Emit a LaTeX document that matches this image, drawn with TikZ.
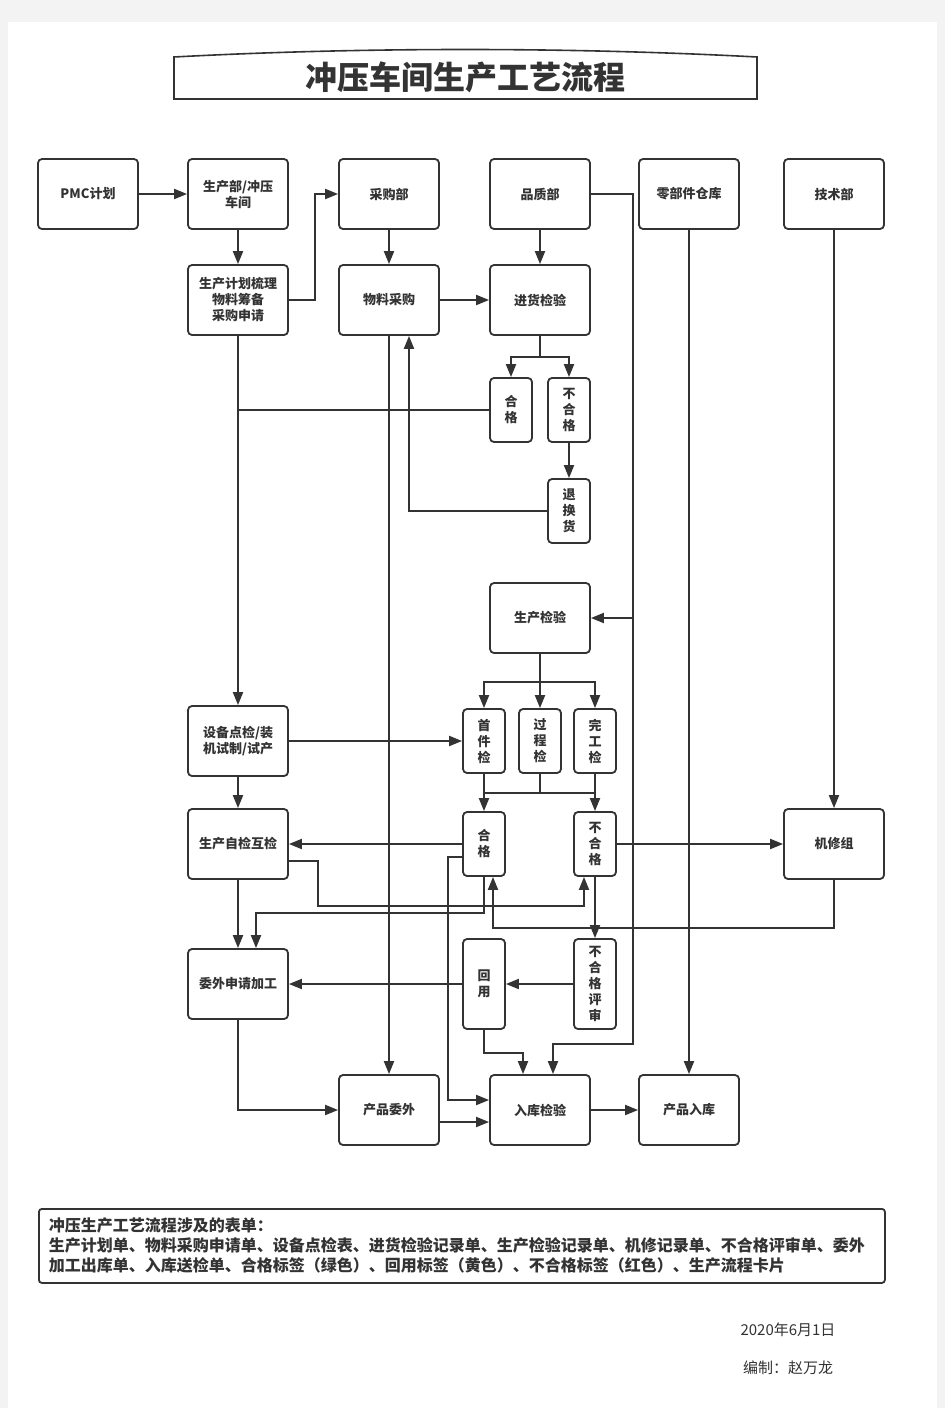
\documentclass[tikz,border=0pt]{standalone}
\usepackage{fontspec}
\setmainfont{Noto Sans CJK SC}
\usetikzlibrary{arrows.meta}
\definecolor{linegray}{HTML}{333333}
\definecolor{pagegray}{HTML}{F3F3F3}

\begin{document}
\begin{tikzpicture}[x=1pt,y=-1pt,
    line width=2pt, draw=linegray, text=linegray,
    stepbox/.style={draw=linegray, line width=1.8pt, rounded corners=4pt,
      minimum width=100pt, minimum height=70pt, inner sep=0pt, align=center,
      font=\bfseries\fontsize{13}{16}\selectfont},
    tagbox/.style={stepbox, minimum width=42pt, minimum height=64pt},
    arr/.style={-{Triangle[length=13pt,width=10pt]}}]
  % page
  \useasboundingbox (0,0) rectangle (945,1408);
  \fill[pagegray] (0,0) rectangle (945,1408);
  \fill[white] (8,22) rectangle (937,1408);
  % title
  \draw[line width=1.6pt] (174,57) .. controls (360,47) and (570,47) .. (757,57) -- (757,99) -- (174,99) -- cycle;
  \node[font=\bfseries\fontsize{32}{36}\selectfont] (title) at (465,77) {冲压车间生产工艺流程};
  % departments
  \node[stepbox] (pmc) at (88,194) {PMC计划};
  \node[stepbox] (scb) at (238,194) {生产部/冲压\\车间};
  \node[stepbox] (cgb) at (389,194) {采购部};
  \node[stepbox] (pzb) at (540,194) {品质部};
  \node[stepbox] (ljk) at (689,194) {零部件仓库};
  \node[stepbox] (jsb) at (834,194) {技术部};
  % purchasing
  \node[stepbox] (jhsl) at (238,300) {生产计划梳理\\物料筹备\\采购申请};
  \node[stepbox] (wlcg) at (389,300) {物料采购};
  \node[stepbox] (jhjy) at (540,300) {进货检验};
  \node[tagbox] (hg1) at (511,410) {合\\格};
  \node[tagbox] (bhg1) at (569,410) {不\\合\\格};
  \node[tagbox] (thh) at (569,511) {退\\换\\货};
  % production
  \node[stepbox] (scjy) at (540,618) {生产检验};
  \node[stepbox] (sbdj) at (238,741) {设备点检/装\\机试制/试产};
  \node[tagbox] (sjj) at (484,741) {首\\件\\检};
  \node[tagbox] (gcj) at (540,741) {过\\程\\检};
  \node[tagbox] (wgj) at (595,741) {完\\工\\检};
  \node[stepbox] (zjhj) at (238,844) {生产自检互检};
  \node[tagbox] (hg2) at (484,844) {合\\格};
  \node[tagbox] (bhg2) at (595,844) {不\\合\\格};
  \node[stepbox] (jxz) at (834,844) {机修组};
  \node[stepbox] (wwsq) at (238,984) {委外申请加工};
  \node[tagbox, minimum height=90pt] (hy) at (484,984) {回\\用};
  \node[tagbox, minimum height=90pt] (bhgps) at (595,984) {不\\合\\格\\评\\审};
  % storage
  \node[stepbox] (cpww) at (389,1110) {产品委外};
  \node[stepbox] (rkjy) at (540,1110) {入库检验};
  \node[stepbox] (cprk) at (689,1110) {产品入库};
  % top flow
  \draw[arr] (pmc) -- (scb);
  \draw[arr] (scb) -- (jhsl);
  \draw[arr] (jhsl.east) -- ++(26,0) |- (cgb.west);
  \draw[arr] (cgb) -- (wlcg);
  \draw[arr] (pzb) -- (jhjy);
  \draw[arr] (wlcg) -- (jhjy);
  \draw (jhjy.south) -- ++(0,21) coordinate (s1);
  \draw[arr] (s1) -| (hg1.north);
  \draw[arr] (s1) -| (bhg1.north);
  \draw (hg1.west) -- (jhsl.south |- hg1.west);
  \draw[arr] (bhg1) -- (thh);
  \draw[arr] (thh.west) -| ([xshift=20pt]wlcg.south);
  \draw[arr] (jhsl) -- (sbdj);
  \draw[arr] (wlcg) -- (cpww);
  % quality line
  \coordinate (qa) at (633,1044);
  \draw[arr] (pzb.east) -| (qa) -| ([xshift=13pt]rkjy.north);
  \draw[arr] (qa |- scjy.east) -- (scjy.east);
  % production checks
  \draw (scjy.south) -- ++(0,28) coordinate (s2);
  \draw[arr] (s2) -| (sjj.north);
  \draw[arr] (s2) -- (gcj.north);
  \draw[arr] (s2) -| (wgj.north);
  \draw[arr] (sbdj) -- (sjj);
  \draw[arr] (sbdj) -- (zjhj);
  \draw (sjj.south) -- ++(0,19) coordinate (b1);
  \draw (b1) -- (wgj.south |- b1);
  \draw (gcj.south) -- (gcj.south |- b1);
  \draw[arr] (sjj) -- (hg2);
  \draw[arr] (wgj) -- (bhg2);
  \draw[arr] (hg2) -- (zjhj);
  \draw[arr] (bhg2) -- (jxz);
  \draw[arr] (jsb) -- (jxz);
  \draw[arr] (ljk) -- (cprk);
  \draw[arr] ([yshift=-17pt]zjhj.east) -| ++(29,45) -| ([xshift=-11pt]bhg2.south);
  \draw[arr] (hg2.south) -- ++(0,36) -| ([xshift=18pt]wwsq.north);
  \draw[arr] (zjhj) -- (wwsq);
  \draw[arr] (jxz.south) -- ++(0,48) -| ([xshift=9pt]hg2.south);
  \draw[arr] (bhg2) -- (bhgps);
  \draw[arr] (bhgps) -- (hy);
  \draw[arr] (hy) -- (wwsq);
  % to storage
  \draw[arr] ([yshift=-13pt]hg2.west) -- ++(-14,0) |- ([yshift=10pt]rkjy.west);
  \draw[arr] (hy.south) -- ++(0,23) -| ([xshift=-17pt]rkjy.north);
  \draw[arr] (wwsq.south) |- (cpww.west);
  \draw[arr] ([yshift=-12pt]cpww.east) -- ([yshift=-12pt]rkjy.west);
  \draw[arr] (rkjy) -- (cprk);
  % forms
  \node[draw=linegray, line width=1.8pt, rounded corners=3pt, anchor=north west,
    minimum height=74pt, text width=826pt, inner xsep=10pt, align=left,
    font=\bfseries\fontsize{16}{20}\selectfont] (note) at (38,1208)
    {冲压生产工艺流程涉及的表单：\\
     生产计划单、物料采购申请单、设备点检表、进货检验记录单、生产检验记录单、机修记录单、不合格评审单、委外\\
     加工出库单、入库送检单、合格标签（绿色）、回用标签（黄色）、不合格标签（红色）、生产流程卡片};
  \node[font=\fontsize{15}{18}\selectfont] (date) at (788,1330) {2020年6月1日};
  \node[font=\fontsize{15}{18}\selectfont] (editor) at (788,1368) {编制：赵万龙};
\end{tikzpicture}
\end{document}
